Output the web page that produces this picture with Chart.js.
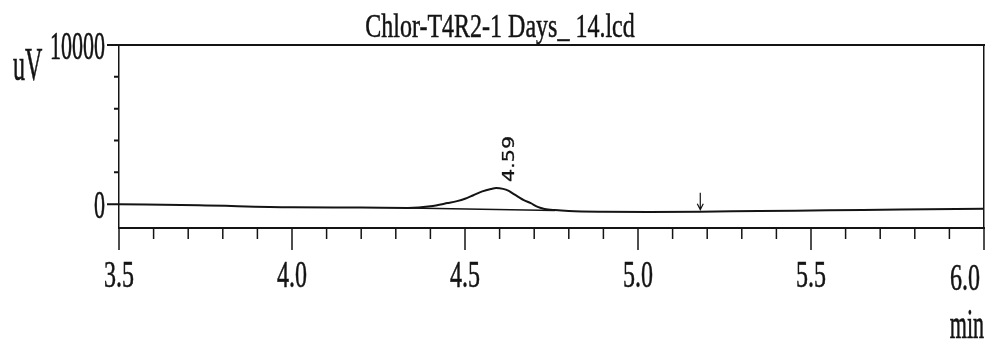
<!DOCTYPE html>
<html>
<head>
<meta charset="utf-8">
<script src="https://cdn.jsdelivr.net/npm/chart.js@4.4.0/dist/chart.umd.min.js"></script>
<style>
  body { margin: 0; background: #fff; }
  canvas { display: block; }
</style>
</head>
<body>
<canvas id="cromatograma" width="990" height="344"></canvas>
<script>
// dados do cromatograma (tempo em min, sinal em uV)
const titulo = 'Chlor-T4R2-1 Days_ 14.lcd';
const tempos = [3.5, 3.73, 4.0, 4.2, 4.335, 4.40, 4.45, 4.477, 4.50, 4.524, 4.55, 4.575, 4.59, 4.61, 4.625, 4.64, 4.655, 4.67, 4.69, 4.71, 4.73, 4.76, 4.80, 4.9, 5.03, 5.18, 5.35, 5.55, 5.76, 6.0];
const sinal = [-10, -75, -200, -215, -240, -140, 65, 190, 340, 560, 800, 950, 1010, 960, 850, 640, 440, 250, 60, -170, -300, -375, -430, -480, -500, -480, -430, -390, -330, -290];
const picos = [4.59];
const linhaBaseT = [4.335, 4.76];
const linhaBaseV = [-240, -400];
const marcas = [5.18];
const xRotulos = ['3.5', '4.0', '4.5', '5.0', '5.5', '6.0'];
const yRotulos = ['0', '10000'];
const yMenores = [2000, 4000, 6000, 8000];

const cor = '#141414';

function valorEm(t) {
    for (let i = 1; i < tempos.length; i++) {
        if (t <= tempos[i]) {
            const f = (t - tempos[i - 1]) / (tempos[i] - tempos[i - 1]);
            return sinal[i - 1] + f * (sinal[i] - sinal[i - 1]);
        }
    }
    return sinal[sinal.length - 1];
}

// texto esticado na vertical, como na impressao do integrador
function texto(ctx, s, x, y, tam, sy, align) {
    ctx.save();
    ctx.translate(x, y);
    ctx.scale(1, sy);
    ctx.font = tam + 'px "Liberation Serif"';
    ctx.textAlign = align;
    ctx.textBaseline = 'alphabetic';
    ctx.lineWidth = 0.35;
    ctx.fillText(s, 0, 0);
    ctx.strokeText(s, 0, 0);
    ctx.restore();
}

const moldura = {
    id: 'moldura',
    afterDraw(chart) {
        const { ctx, chartArea: a, scales: { x, y } } = chart;
        ctx.save();
        ctx.strokeStyle = cor;
        ctx.fillStyle = cor;

        // marcas do eixo y
        ctx.lineWidth = 2;
        ctx.beginPath();
        yMenores.forEach(v => {
            const py = y.getPixelForValue(v);
            ctx.moveTo(a.left - 5, py);
            ctx.lineTo(a.left, py);
        });
        yRotulos.forEach(r => {
            const py = y.getPixelForValue(Number(r));
            ctx.moveTo(a.left - 12, py);
            ctx.lineTo(a.left, py);
        });
        ctx.stroke();

        // marcas do eixo x a cada 0.1 min
        ctx.lineWidth = 1.5;
        ctx.beginPath();
        for (let i = Math.round(x.min * 10); i <= Math.round(x.max * 10); i++) {
            const px = x.getPixelForValue(i / 10);
            const len = i % 5 === 0 ? 22 : 11;
            ctx.moveTo(px, a.bottom);
            ctx.lineTo(px, a.bottom + len);
        }
        ctx.stroke();

        // seta do fim da integracao
        marcas.forEach(t => {
            const px = x.getPixelForValue(t);
            const py = y.getPixelForValue(valorEm(t)) - 2;
            ctx.lineWidth = 1.2;
            ctx.beginPath();
            ctx.moveTo(px, py - 17);
            ctx.lineTo(px, py);
            ctx.moveTo(px - 3, py - 6);
            ctx.lineTo(px, py);
            ctx.lineTo(px + 3, py - 6);
            ctx.stroke();
        });

        // tempo de retencao sobre o pico
        picos.forEach(t => {
            const px = x.getPixelForValue(t);
            const py = y.getPixelForValue(valorEm(t));
            ctx.save();
            ctx.translate(px + 18, py - 6);
            ctx.scale(1, 1.3);
            ctx.rotate(-Math.PI / 2);
            ctx.font = '16px "DejaVu Sans"';
            ctx.textAlign = 'left';
            ctx.textBaseline = 'alphabetic';
            ctx.lineWidth = 0.3;
            ctx.fillText(t.toFixed(2), 0, 0);
            ctx.strokeText(t.toFixed(2), 0, 0);
            ctx.restore();
        });

        // rotulos
        texto(ctx, titulo, 500, 37, 24, 1.4, 'center');
        texto(ctx, 'uV', 13, 80, 24, 1.9, 'left');
        yRotulos.forEach(r => {
            texto(ctx, r, a.left - 14, y.getPixelForValue(Number(r)) + 13.5, 22, 1.85, 'right');
        });
        xRotulos.forEach(r => {
            const px = x.getPixelForValue(Number(r));
            // o ultimo rotulo fica encostado a esquerda da marca
            if (px + 16 > chart.width) {
                texto(ctx, r, px - 4, a.bottom + 62, 24, 1.6, 'right');
            } else {
                texto(ctx, r, px, a.bottom + 59, 24, 1.6, 'center');
            }
        });
        texto(ctx, 'min', a.right, 338, 22, 1.9, 'right');

        ctx.restore();
    }
};

document.addEventListener('DOMContentLoaded', () => {
    const ctx = document.getElementById('cromatograma').getContext('2d');

    const eixo = (pos, extra) => Object.assign({
        type: 'linear',
        position: pos,
        grid: { display: false },
        ticks: { display: false },
        border: { display: true, color: cor, width: 2 }
    }, extra);

    new Chart(ctx, {
        type: 'line',
        data: {
            datasets: [{
                data: tempos.map((t, i) => ({ x: t, y: sinal[i] })),
                borderColor: cor,
                borderWidth: 2,
                pointRadius: 0,
                cubicInterpolationMode: 'monotone',
                fill: false
            }, {
                data: linhaBaseT.map((t, i) => ({ x: t, y: linhaBaseV[i] })),
                borderColor: cor,
                borderWidth: 1.5,
                pointRadius: 0,
                tension: 0,
                fill: false
            }]
        },
        options: {
            responsive: false,
            animation: false,
            devicePixelRatio: 1,
            layout: { padding: 0 },
            plugins: {
                legend: { display: false },
                tooltip: { enabled: false }
            },
            scales: {
                x: eixo('bottom', { min: 3.5, max: 6.0, afterFit: s => { s.height = 116; } }),
                y: eixo('left', { min: -1500, max: 10000, afterFit: s => { s.width = 119; },
                    border: { display: true, color: cor, width: 1.5 } }),
                xTopo: eixo('top', { min: 3.5, max: 6.0, afterFit: s => { s.height = 45; } }),
                yDir: eixo('right', { min: -1500, max: 10000, afterFit: s => { s.width = 6; },
                    border: { display: true, color: cor, width: 1.5 } })
            }
        },
        plugins: [moldura]
    });
});
</script>
</body>
</html>
